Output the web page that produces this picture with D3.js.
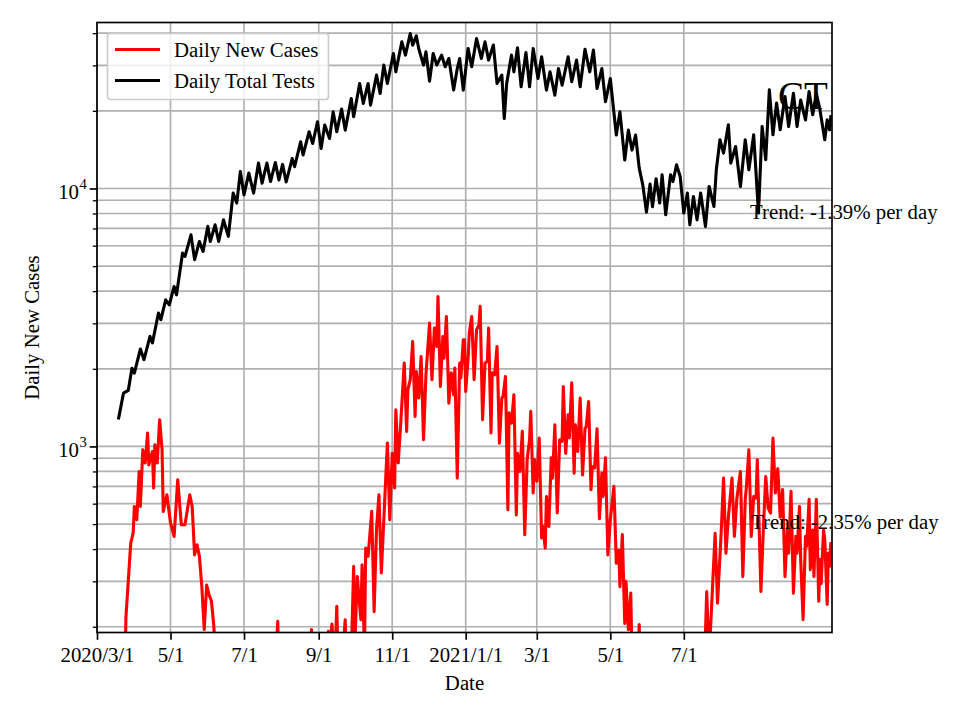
<!DOCTYPE html>
<html>
<head>
<meta charset="utf-8">
<script src="https://cdn.jsdelivr.net/npm/d3@7"></script>
<style>
  html, body { margin: 0; padding: 0; background: #fff; }
  text { font-family: "Liberation Serif", "Times New Roman", serif; }
</style>
</head>
<body>
<svg id="chart" width="960" height="720"></svg>
<script>
// ---------------- data ----------------
const startDate = "2020-03-01";
const endDate = "2021-11-01";

// Daily Total Tests (day offset from startDate, value)
const testDay = [18,22,26,29,31,36,39,44,46,51,53,57,60,64,66,71,73,78,81,85,88,92,94,98,101,105,109,113,116,119,122,126,130,134,137,141,144,148,151,154,157,162,164,169,171,176,179,183,186,189,193,196,199,203,206,211,213,218,221,225,227,232,235,238,241,246,248,253,256,260,262,265,267,271,273,276,279,282,286,289,292,296,299,301,304,308,311,315,319,322,325,329,332,336,338,340,344,346,349,352,356,359,362,366,369,373,376,380,383,386,391,394,398,401,405,409,412,415,419,422,426,431,434,438,441,444,447,450,453,456,459,461,464,467,469,472,476,478,481,484,487,490,492,495,498,501,505,508,512,514,517,520,524,526,530,534,538,541,545,549,552,555,558,561,564,567,571,574,578,581,584,588,591,594,597,600,604,606,608,609];
const testValue = [1290,1610,1650,2010,1925,2385,2170,2670,2520,3290,3100,3700,3540,4170,3870,5620,5450,6610,5300,6230,5700,7130,6230,7230,6230,7560,6520,9600,8780,11640,9450,11470,9600,12540,10490,12540,10640,12600,10800,12400,10600,13060,12150,15170,13480,16590,14940,18140,14290,17610,15620,19830,16590,20310,16840,22330,18970,25530,21360,25530,21040,27510,23340,30080,25530,33360,28330,37040,32890,39900,35970,39070,34880,30080,33880,26080,33360,30080,32890,29640,31910,24070,29180,31910,24070,34880,29640,38140,31910,37040,31460,35970,25530,27510,18670,25530,32890,28330,35100,24790,33650,24790,34880,26690,32390,24070,28330,23010,29180,25160,32390,25920,31460,24790,34670,28330,34390,24410,29180,21680,26690,16110,19830,12890,16840,14090,16110,12000,10300,8100,10400,8500,10900,8780,11300,7910,11300,10640,12350,11130,8030,9600,7230,9310,7560,9600,7125,10180,8520,11820,15450,13720,17660,12540,14550,10180,15450,11820,16150,8030,17390,12920,24130,16150,21440,16890,22720,17390,23380,17390,22000,18440,23770,19310,23380,20170,15450,18440,16890,19000];

// Daily New Cases (day offset from startDate, value)
const caseDay = [23,24,28,30,31,33,35,36,38,40,42,43,46,47,48,50,52,54,55,58,61,64,67,70,73,77,79,81,83,85,87,89,91,93,95,97,98,105,120,148,150,151,170,177,178,179,190,192,193,195,196,198,199,200,204,206,207,211,213,214,216,219,220,222,223,225,228,230,232,234,236,239,241,243,245,247,248,250,252,255,257,258,260,262,264,265,267,269,271,273,276,278,280,282,283,285,287,288,290,292,294,296,297,299,301,302,304,305,306,308,309,311,313,315,317,318,320,322,324,325,327,328,330,332,334,336,337,339,341,342,344,346,348,349,351,353,355,357,359,360,362,363,365,367,369,370,372,373,375,377,378,380,382,384,386,387,389,391,392,394,396,397,399,401,403,405,406,408,410,411,413,415,417,419,420,422,424,426,429,431,433,434,436,438,439,441,443,444,449,450,451,480,503,505,506,508,513,515,518,520,522,524,527,529,531,534,536,538,539,541,543,545,547,548,551,553,555,557,559,561,563,565,567,569,571,573,574,576,578,580,581,583,584,586,588,589,591,592,594,595,597,599,600,601,603,604,606,607,608,609];
const caseValue = [120,217,422,461,585,520,800,585,971,863,1127,848,956,690,1015,863,1269,971,560,650,505,448,743,497,497,650,585,380,416,375,286,195,290,266,251,200,160,110,100,140,210,140,110,150,195,150,140,192,165,205,170,175,240,150,160,213,150,150,343,170,313,213,348,160,404,375,560,229,481,650,323,650,1030,520,940,690,1388,863,1213,2107,1144,1660,1814,2553,1307,1950,1541,2233,1062,1896,3007,1814,2877,2441,3815,1708,2668,2200,3190,1472,1930,1587,2013,754,2107,1844,2590,2590,1635,2200,2752,3190,1814,2830,2960,3490,1269,2107,2140,2877,1127,1930,1896,2441,1030,1541,1562,1868,568,1349,1232,1587,543,940,800,1144,455,890,1062,1370,660,890,734,1078,442,490,404,640,490,903,754,1213,552,1062,1046,1708,940,1325,1078,1764,788,1213,956,1541,775,1176,1190,1494,680,836,825,1170,525,788,640,903,380,520,700,353,397,286,455,206,300,195,270,150,150,204,130,100,120,190,274,150,461,247,461,754,386,532,754,448,624,800,313,624,700,971,448,640,630,890,274,474,765,577,552,1078,660,820,532,680,313,481,386,670,270,448,386,585,365,213,448,410,624,333,474,313,624,251,365,294,474,435,244,386,343,420];

const xTickDates = ["2020-03-01","2020-05-01","2020-07-01","2020-09-01","2020-11-01","2021-01-01","2021-03-01","2021-05-01","2021-07-01"];
const xTickLabels = ["2020/3/1","5/1","7/1","9/1","11/1","2021/1/1","3/1","5/1","7/1"];
const yMajorTicks = [1000, 10000];
const yMajorExp = ["3", "4"];
const yMinorTicks = [200,300,400,500,600,700,800,900,2000,3000,4000,5000,6000,7000,8000,9000,20000,30000,40000];
const yDomain = [190, 44000];

const seriesNames = ["Daily New Cases", "Daily Total Tests"];
const seriesColors = ["#ff0000", "#000000"];
const trendTexts = ["Trend: -1.39% per day", "Trend: -2.35% per day"];
const stateLabel = "CT";

// ---------------- layout ----------------
const svg = d3.select("#chart");
const L = 97, R = 832, T = 22.5, B = 632.5;
const parse = d3.utcParse("%Y-%m-%d");
const t0 = parse(startDate);

const x = d3.scaleUtc().domain([t0, parse(endDate)]).range([L, R]);
const y = d3.scaleLog().domain(yDomain).range([B, T]);

const gridColor = "#b0b0b0";
const gw = 1.67;

// grid
const grid = svg.append("g");
grid.selectAll("line.xg").data(xTickDates).enter().append("line")
  .attr("x1", d => x(parse(d))).attr("x2", d => x(parse(d)))
  .attr("y1", T).attr("y2", B)
  .attr("stroke", gridColor).attr("stroke-width", gw);
grid.selectAll("line.yg").data(yMajorTicks.concat(yMinorTicks)).enter().append("line")
  .attr("x1", L).attr("x2", R)
  .attr("y1", d => y(d)).attr("y2", d => y(d))
  .attr("stroke", gridColor).attr("stroke-width", gw);

// clip
svg.append("defs").append("clipPath").attr("id", "clip")
  .append("rect").attr("x", L).attr("y", T).attr("width", R - L).attr("height", B - T);

const line = d3.line().x(d => x(d[0])).y(d => y(d[1]));
const casePts = caseDay.map((d, i) => [d3.utcDay.offset(t0, d), caseValue[i]]);
const testPts = testDay.map((d, i) => [d3.utcDay.offset(t0, d), testValue[i]]);

const plot = svg.append("g").attr("clip-path", "url(#clip)");
plot.append("path").datum(casePts).attr("d", line)
  .attr("fill", "none").attr("stroke", seriesColors[0]).attr("stroke-width", 3.1)
  .attr("stroke-linejoin", "round").attr("stroke-linecap", "square");
plot.append("path").datum(testPts).attr("d", line)
  .attr("fill", "none").attr("stroke", seriesColors[1]).attr("stroke-width", 3.1)
  .attr("stroke-linejoin", "round").attr("stroke-linecap", "square");

// axes
const fontSize = 20.8;
const xAxis = svg.append("g").attr("transform", `translate(0,${B})`)
  .call(d3.axisBottom(x).tickValues(xTickDates.map(parse))
    .tickFormat((d, i) => xTickLabels[i]).tickSize(7.3).tickPadding(7));
xAxis.select(".domain").remove();
xAxis.selectAll("line").attr("stroke", "#000").attr("stroke-width", 1.67);
xAxis.selectAll("text").attr("font-size", fontSize).attr("fill", "#000")
  .attr("font-family", "Liberation Serif, Times New Roman, serif");

const yAxis = svg.append("g").attr("transform", `translate(${L},0)`)
  .call(d3.axisLeft(y).tickValues(yMajorTicks).tickFormat("").tickSize(7.3));
yAxis.select(".domain").remove();
yAxis.selectAll("line").attr("stroke", "#000").attr("stroke-width", 1.67);

const yMinor = svg.append("g").attr("transform", `translate(${L},0)`)
  .call(d3.axisLeft(y).tickValues(yMinorTicks).tickFormat("").tickSize(4.2));
yMinor.select(".domain").remove();
yMinor.selectAll("line").attr("stroke", "#000").attr("stroke-width", 1.3);

// y tick labels 10^n
yMajorTicks.forEach((v, i) => {
  const t = svg.append("text").attr("x", 79).attr("y", y(v) + 11)
    .attr("text-anchor", "end").attr("font-size", fontSize).attr("fill", "#000").text("10");
  svg.append("text").attr("x", 79.5).attr("y", y(v) + 1)
    .attr("text-anchor", "start").attr("font-size", 14.6).attr("fill", "#000").text(yMajorExp[i]);
});

// frame
svg.append("rect").attr("x", L).attr("y", T).attr("width", R - L).attr("height", B - T)
  .attr("fill", "none").attr("stroke", "#000").attr("stroke-width", 1.67);

// axis labels
svg.append("text").attr("x", (L + R) / 2).attr("y", 690).attr("text-anchor", "middle")
  .attr("font-size", fontSize).text("Date");
svg.append("text").attr("transform", `translate(39,${(T + B) / 2}) rotate(-90)`)
  .attr("text-anchor", "middle").attr("font-size", fontSize).text("Daily New Cases");

// annotations
svg.append("text").attr("x", 778).attr("y", 109).attr("font-size", 39).text(stateLabel);
svg.append("text").attr("x", 750).attr("y", 219).attr("font-size", fontSize).text(trendTexts[0]);
svg.append("text").attr("x", 751).attr("y", 529).attr("font-size", fontSize).text(trendTexts[1]);

// legend
const lg = svg.append("g");
lg.append("rect").attr("x", 107.5).attr("y", 33.5).attr("width", 221).attr("height", 66).attr("rx", 3)
  .attr("fill", "#fff").attr("fill-opacity", 0.8).attr("stroke", "#cccccc").attr("stroke-width", 1.67);
seriesNames.forEach((n, i) => {
  const yy = 49.5 + i * 31;
  lg.append("line").attr("x1", 115).attr("x2", 160).attr("y1", yy).attr("y2", yy)
    .attr("stroke", seriesColors[i]).attr("stroke-width", 3.1);
  lg.append("text").attr("x", 174).attr("y", yy + 7).attr("font-size", fontSize).text(n);
});
</script>
</body>
</html>
